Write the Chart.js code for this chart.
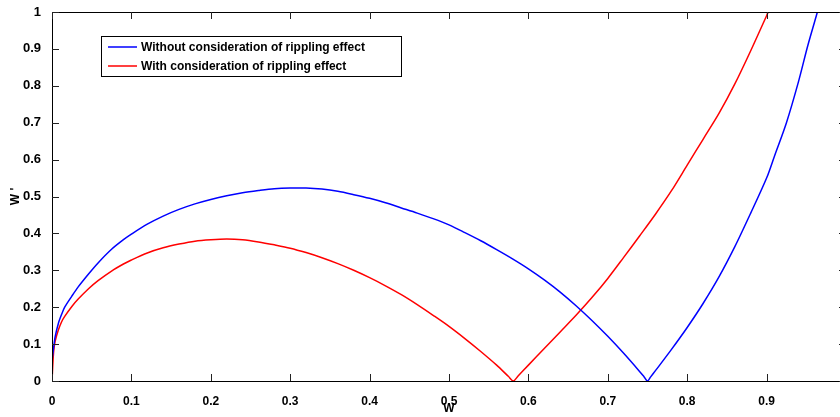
<!DOCTYPE html>
<html>
<head>
<meta charset="utf-8">
<script src="https://cdn.jsdelivr.net/npm/chart.js@4/dist/chart.umd.min.js"></script>
<style>
  html, body { margin: 0; padding: 0; background: #fff; overflow: hidden; }
  #wrap { width: 840px; height: 417px; overflow: hidden; }
</style>
</head>
<body>
<div id="wrap"><canvas id="plot" width="860" height="417"></canvas></div>
<script>
// ── Series: W' as a function of W ────────────────────
const seriesLabels = [
  'Without consideration of rippling effect',
  'With consideration of rippling effect',
];

const blueW = [0, 0.002, 0.004, 0.008, 0.012, 0.016, 0.025, 0.033, 0.046, 0.058, 0.075, 0.09,
  0.10, 0.12, 0.14, 0.16, 0.18, 0.20, 0.22, 0.24, 0.26, 0.28, 0.30, 0.32, 0.34, 0.36, 0.38,
  0.40, 0.42, 0.44, 0.46, 0.48, 0.50, 0.52, 0.54, 0.56, 0.58, 0.60, 0.62, 0.64, 0.66, 0.68,
  0.70, 0.72, 0.74, 0.746, 0.75, 0.754, 0.76, 0.78, 0.80, 0.82, 0.84, 0.86, 0.88, 0.90, 0.91,
  0.925, 0.94, 0.952, 0.964];
const blueV = [0.055, 0.09, 0.12, 0.156, 0.18, 0.2, 0.23, 0.255, 0.29, 0.32, 0.357, 0.383,
  0.398, 0.425, 0.447, 0.465, 0.48, 0.492, 0.502, 0.51, 0.516, 0.521, 0.523, 0.523, 0.52,
  0.514, 0.505, 0.495, 0.483, 0.469, 0.455, 0.44, 0.423, 0.402, 0.38, 0.356, 0.331, 0.304,
  0.274, 0.241, 0.204, 0.164, 0.121, 0.075, 0.026, 0.0104, 0, 0.0112, 0.028, 0.085, 0.145,
  0.21, 0.282, 0.364, 0.455, 0.55, 0.61, 0.7, 0.81, 0.91, 1.0];

const redW = [0, 0.002, 0.004, 0.008, 0.012, 0.016, 0.025, 0.033, 0.046, 0.058, 0.075, 0.09,
  0.10, 0.12, 0.14, 0.16, 0.18, 0.20, 0.22, 0.24, 0.26, 0.28, 0.30, 0.32, 0.34, 0.36, 0.38,
  0.40, 0.42, 0.44, 0.46, 0.48, 0.50, 0.52, 0.54, 0.56, 0.575, 0.581, 0.587, 0.60, 0.62, 0.64,
  0.66, 0.68, 0.70, 0.72, 0.74, 0.76, 0.78, 0.80, 0.82, 0.84, 0.86, 0.88, 0.90, 0.902];
const redV = [0, 0.078, 0.108, 0.138, 0.16, 0.175, 0.202, 0.222, 0.25, 0.272, 0.298, 0.317,
  0.328, 0.347, 0.361, 0.371, 0.379, 0.383, 0.385, 0.383, 0.377, 0.369, 0.36, 0.348, 0.334,
  0.318, 0.30, 0.28, 0.258, 0.234, 0.207, 0.178, 0.148, 0.115, 0.08, 0.043, 0.012, 0, 0.0135,
  0.043, 0.088, 0.133, 0.178, 0.226, 0.278, 0.335, 0.393, 0.452, 0.515, 0.585, 0.655, 0.725,
  0.805, 0.895, 0.99, 1.0];

const FONT = "'Liberation Sans', Arial, Helvetica, sans-serif";
const TICK_LEN = 7;

function toPoints(xs, ys) {
  return xs.map((x, i) => ({ x, y: ys[i] }));
}

function fmtTick(v) {
  return String(Number(v.toFixed(1)));
}

// ── Frame with inward ticks on all four sides ────────
const framePlugin = {
  id: 'frame',
  afterDatasetsDraw(chart) {
    const { ctx, chartArea: a, scales } = chart;
    ctx.save();
    ctx.strokeStyle = '#000';
    ctx.lineWidth = 1;
    ctx.strokeRect(Math.round(a.left) + 0.5, Math.round(a.top) + 0.5,
      Math.round(a.right - a.left), Math.round(a.bottom - a.top));

    ctx.strokeStyle = '#222';
    ctx.beginPath();
    scales.x.ticks.forEach((t) => {
      const px = Math.round(scales.x.getPixelForValue(t.value)) + 0.5;
      ctx.moveTo(px, a.bottom); ctx.lineTo(px, a.bottom - TICK_LEN);
      ctx.moveTo(px, a.top); ctx.lineTo(px, a.top + TICK_LEN);
    });
    scales.y.ticks.forEach((t) => {
      const py = Math.round(scales.y.getPixelForValue(t.value)) + 0.5;
      ctx.moveTo(a.left, py); ctx.lineTo(a.left + TICK_LEN, py);
      ctx.moveTo(a.right, py); ctx.lineTo(a.right - TICK_LEN, py);
    });
    ctx.stroke();
    ctx.restore();
  },
};

// ── Boxed legend in the upper left ───────────────────
const boxLegendPlugin = {
  id: 'boxLegend',
  afterDraw(chart) {
    const { ctx } = chart;
    const x = 101, y = 36, w = 300, h = 40;
    ctx.save();
    ctx.fillStyle = '#fff';
    ctx.fillRect(x, y, w, h);
    ctx.strokeStyle = '#000';
    ctx.lineWidth = 1;
    ctx.strokeRect(x + 0.5, y + 0.5, w, h);

    ctx.font = `bold 12px ${FONT}`;
    ctx.textBaseline = 'middle';
    chart.data.datasets.forEach((ds, i) => {
      const ly = y + 11 + i * 19;
      ctx.strokeStyle = ds.borderColor;
      ctx.lineWidth = 1.5;
      ctx.beginPath();
      ctx.moveTo(x + 7, ly);
      ctx.lineTo(x + 36, ly);
      ctx.stroke();
      ctx.fillStyle = '#000';
      ctx.fillText(ds.label, x + 40, ly + 1);
    });
    ctx.restore();
  },
};

new Chart(document.getElementById('plot'), {
  type: 'line',
  data: {
    datasets: [
      {
        label: seriesLabels[0],
        data: toPoints(blueW, blueV),
        borderColor: '#0000ff',
        borderWidth: 1.5,
        pointRadius: 0,
        tension: 0.3,
        clip: 0,
      },
      {
        label: seriesLabels[1],
        data: toPoints(redW, redV),
        borderColor: '#ff0000',
        borderWidth: 1.5,
        pointRadius: 0,
        tension: 0.3,
        clip: 0,
      },
    ],
  },
  options: {
    responsive: false,
    animation: false,
    devicePixelRatio: 1,
    layout: { padding: { left: 0, right: 14, top: 12, bottom: 0 } },
    plugins: {
      legend: { display: false },
      tooltip: { enabled: false },
    },
    scales: {
      x: {
        type: 'linear',
        min: 0,
        max: 1,
        grid: { display: false },
        border: { display: false },
        ticks: {
          stepSize: 0.1,
          padding: 5,
          color: '#000',
          maxRotation: 0,
          font: { family: FONT, size: 12, weight: 'bold' },
          callback: fmtTick,
        },
        title: {
          display: true,
          text: 'W',
          color: '#000',
          padding: { top: 0, bottom: 1 },
          font: { family: FONT, size: 12, weight: 'bold' },
        },
        afterFit(scale) { scale.height = 36; },
      },
      y: {
        min: 0,
        max: 1,
        grid: { display: false },
        border: { display: false },
        ticks: {
          stepSize: 0.1,
          padding: 3,
          color: '#000',
          font: { family: FONT, size: 13, weight: 'bold' },
          callback: fmtTick,
        },
        title: {
          display: true,
          text: "W '",
          color: '#000',
          padding: { top: 8, bottom: 0 },
          font: { family: FONT, size: 12, weight: 'bold' },
        },
        afterFit(scale) { scale.width = 52; },
      },
    },
  },
  plugins: [framePlugin, boxLegendPlugin],
});
</script>
</body>
</html>
